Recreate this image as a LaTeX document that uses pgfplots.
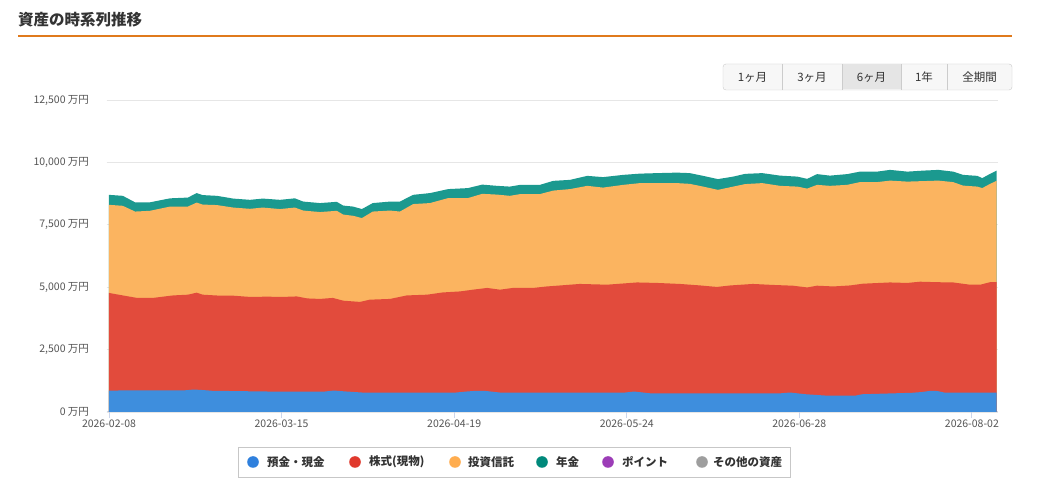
\documentclass[border=0pt]{standalone}
\usepackage{pgfplots}
\pgfplotsset{compat=1.18}
\usepackage{fontspec}
\setmainfont{Noto Sans CJK JP}
\definecolor{cblue}{HTML}{3E8EDD}
\definecolor{cred}{HTML}{E24B3C}
\definecolor{corange}{HTML}{FBB460}
\definecolor{cteal}{HTML}{1B998F}
\definecolor{lblue}{HTML}{2F80DD}
\definecolor{lred}{HTML}{E0392D}
\definecolor{lorange}{HTML}{FFAD4F}
\definecolor{lteal}{HTML}{00897B}
\definecolor{lpurple}{HTML}{9C3DB7}
\definecolor{lgray}{HTML}{9E9E9E}
\definecolor{gridc}{HTML}{E6E6E6}
\definecolor{axc}{HTML}{CCD6EB}
\definecolor{txt}{HTML}{555555}
\definecolor{dark}{HTML}{333333}
\definecolor{titleline}{HTML}{E07A1C}
\begin{document}
\begin{tikzpicture}[x=1pt,y=1pt]
\path[use as bounding box,fill=white] (0,0) rectangle (1043,486);
% title
\node[anchor=west,font=\fontsize{15.5}{18}\selectfont\bfseries,text=dark,inner sep=0] at (18,466) {資産の時系列推移};
\draw[titleline,line width=2pt] (18,449.5) -- (1012,449.5);
% buttons
\begin{scope}[font=\fontsize{11.5}{14}\selectfont,text=dark]
\filldraw[fill=white!97!black,draw=black!20,rounded corners=3pt] (723,396) rectangle (1012,422);
\fill[black!10] (842,396.5) rectangle (901,421.5);
\foreach \xx in {782,842,901,947} {\draw[black!20] (\xx,396) -- (\xx,422);}
\node at (752.5,409) {1ヶ月};
\node at (812,409) {3ヶ月};
\node at (871.5,409) {6ヶ月};
\node at (924,409) {1年};
\node at (979.5,409) {全期間};
\end{scope}
\begin{axis}[
  at={(106.5pt,74pt)}, anchor=south west,
  width=891.5pt, height=312pt, scale only axis,
  xmin=-0.5, xmax=180.3, ymin=0, ymax=12500,
  scaled y ticks=false, scaled x ticks=false,
  axis x line*=bottom, axis y line*=left,
  y axis line style={draw=none},
  x axis line style={draw=axc, line width=1pt},
  ytick={0,2500,5000,7500,10000,12500},
  yticklabels={{0 万円},{2,500 万円},{5,000 万円},{7,500 万円},{10,000 万円},{12,500 万円}},
  ymajorgrids, major grid style={gridc, line width=0.8pt},
  ytick style={draw=none},
  xtick={0,35,70,105,140,175},
  xticklabels={2026-02-08,2026-03-15,2026-04-19,2026-05-24,2026-06-28,2026-08-02},
  xtick style={draw=axc, line width=0.8pt},
  tick align=outside, major tick length=6pt,
  tick label style={font=\fontsize{10.5}{12}\selectfont, text=txt},
  yticklabel style={xshift=-8pt},
  xticklabel style={yshift=2pt},
  clip=true,
]
% total (teal top)
\addplot[fill=cteal, draw=none] coordinates {
(0,8700) (2.8,8660) (5.3,8400) (8.3,8400) (12.4,8560) (16,8590) (17.8,8770) (19,8690)
(21.9,8660) (25.2,8550) (28.6,8500) (31.2,8550) (34.7,8500) (37.7,8560) (39.4,8430)
(42.8,8370) (46.2,8420) (47.5,8270) (49.5,8230) (51.3,8130) (53.5,8370) (57,8430)
(59,8430) (61.7,8700) (65.1,8770) (68.8,8930) (72.8,8970) (75.7,9110) (78.7,9060)
(81.3,9030) (83.4,9100) (87.4,9100) (90.1,9260) (93.5,9300) (97,9460) (100.2,9410)
(104.3,9500) (107.7,9550) (111.2,9570) (115.2,9590) (117.8,9570) (120.5,9460)
(123.5,9330) (126.6,9430) (129,9540) (132.5,9570) (136.1,9470) (139.6,9430)
(141.6,9340) (143.6,9530) (146.2,9470) (149.7,9530) (152.3,9630) (155.8,9630)
(158.4,9700) (161.9,9630) (165.1,9670) (168.2,9700) (171.2,9630) (173.2,9500)
(176.1,9460) (177.1,9370) (178.7,9540) (180,9670)
} \closedcycle;
% orange top
\addplot[fill=corange, draw=none] coordinates {
(0,8300) (2.8,8260) (5.3,8030) (8.3,8060) (12.4,8230) (16,8230) (17.8,8390) (19,8310)
(21.9,8290) (25.2,8190) (28.6,8140) (31.2,8190) (34.7,8130) (37.7,8190) (39.4,8070)
(42.8,8010) (46.2,8060) (47.5,7910) (49.5,7860) (51.3,7770) (53.5,8030) (57,8070)
(59,8030) (61.7,8330) (65.1,8370) (68.8,8570) (72.8,8570) (75.7,8740) (78.7,8710)
(81.3,8660) (83.4,8730) (87.4,8730) (90.1,8870) (93.5,8930) (97,9060) (100.2,8990)
(104.3,9100) (107.7,9170) (111.2,9170) (115.2,9170) (117.8,9140) (120.5,9030)
(123.5,8900) (126.6,9030) (129,9130) (132.5,9170) (136.1,9060) (139.6,9030)
(141.6,8950) (143.6,9100) (146.2,9060) (149.7,9100) (152.3,9210) (155.8,9210)
(158.4,9270) (161.9,9230) (165.1,9250) (168.2,9270) (171.2,9210) (173.2,9070)
(176.1,9030) (177.1,8970) (178.7,9140) (180,9260)
} \closedcycle;
% red top
\addplot[fill=cred, draw=none] coordinates {
(0,4770) (2.8,4670) (5.7,4570) (8.9,4570) (13,4670) (16,4700) (17.8,4780) (19,4700)
(22.5,4660) (25.2,4660) (28.6,4610) (32,4620) (35.3,4610) (38.1,4630) (40.2,4550)
(42.8,4530) (45.4,4570) (47.5,4460) (50.9,4410) (52.9,4500) (57,4530) (60.4,4670)
(64.5,4700) (67.7,4790) (71.2,4830) (73.8,4900) (76.7,4970) (79.3,4900) (81.9,4970)
(86,4970) (88.8,5030) (90.9,5060) (95.5,5130) (101,5100) (107.1,5190) (111.2,5170)
(115.8,5130) (119.9,5070) (123.3,5010) (126,5070) (130.6,5130) (134.7,5090)
(138.7,5060) (141.6,4990) (143.6,5060) (146.9,5030) (150.3,5070) (152.9,5140)
(158.4,5190) (161.9,5170) (164.5,5220) (168,5200) (171.2,5190) (174.6,5100)
(176.7,5100) (178.7,5200) (180,5200)
} \closedcycle;
% blue (deposits)
\addplot[fill=cblue, draw=none] coordinates {
(0,860) (15.5,870) (17.2,900) (19,880) (20.9,850) (32.5,820) (43.8,820) (45.6,860)
(47.5,830) (51.3,780) (70.4,780) (72.5,820) (74.5,850) (76.1,850) (79.3,780)
(104.7,780) (106.5,820) (109.7,750) (136.3,750) (138.1,780) (141.4,710) (145.2,660)
(151.5,660) (152.7,710) (162.9,770) (164.8,800) (166.7,850) (168,840) (169.4,780) (180,780)
} \closedcycle;
\end{axis}
% legend
\draw[black!22,line width=0.8pt] (238,9) rectangle (790,39);
\begin{scope}[font=\fontsize{11.5}{14}\selectfont\bfseries,text=dark]
\fill[lblue] (253,24) circle (5.8);
\node[anchor=west,inner sep=0] at (267,24) {預金・現金};
\fill[lred] (355,24) circle (5.8);
\node[anchor=west,inner sep=0] at (369,24) {株式(現物)};
\fill[lorange] (455,24) circle (5.8);
\node[anchor=west,inner sep=0] at (468,24) {投資信託};
\fill[lteal] (542,24) circle (5.8);
\node[anchor=west,inner sep=0] at (556,24) {年金};
\fill[lpurple] (608,24) circle (5.8);
\node[anchor=west,inner sep=0] at (622,24) {ポイント};
\fill[lgray] (702,24) circle (5.8);
\node[anchor=west,inner sep=0] at (713,24) {その他の資産};
\end{scope}
\end{tikzpicture}
\end{document}
